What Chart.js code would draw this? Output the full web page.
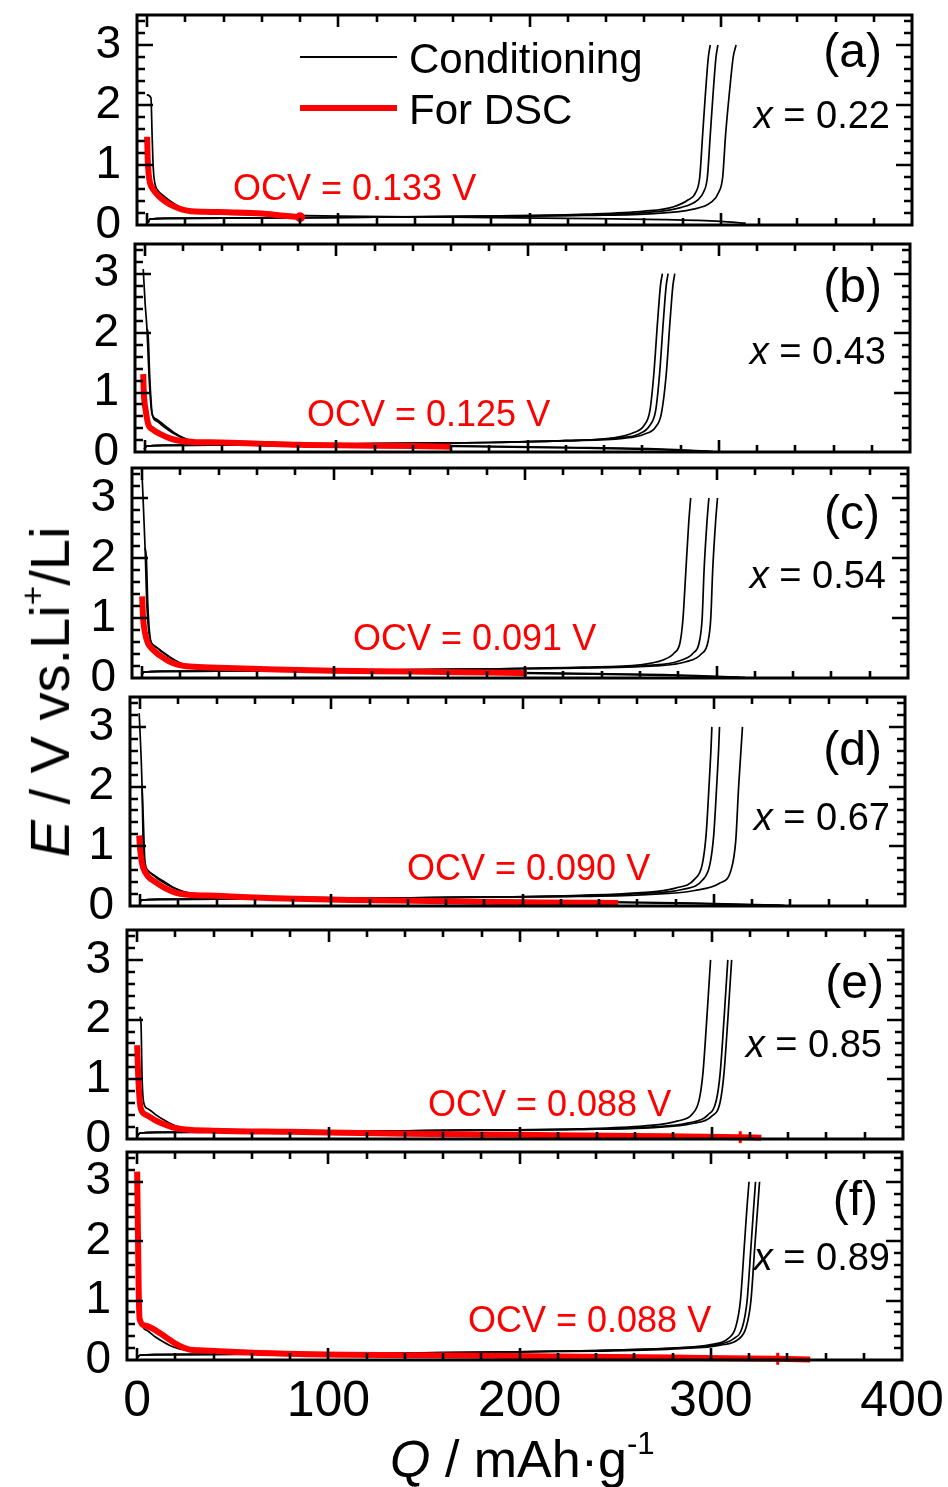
<!DOCTYPE html>
<html><head><meta charset="utf-8">
<script src="https://cdn.jsdelivr.net/npm/chart.js@4.4.1/dist/chart.umd.min.js"></script>
<style>
html,body{margin:0;padding:0;background:#fff;}
#wrap{position:relative;width:948px;height:1487px;overflow:hidden;background:#fff;}
canvas{position:absolute;left:0;top:0;}
.t{position:absolute;font-family:"Liberation Sans",Arial,sans-serif;color:#000;white-space:nowrap;line-height:1;}
.r{color:#ff0000;}
</style></head><body>
<div id="wrap"></div>
<script>
// ---------- data (Q in mAh/g, E in V) ----------
const xTickValues = [0, 100, 200, 300, 400];
const yTickValues = [0, 1, 2, 3];
const panelLetters = ['(a)', '(b)', '(c)', '(d)', '(e)', '(f)'];
const xContents = ['0.22', '0.43', '0.54', '0.67', '0.85', '0.89'];
const ocvValues = ['0.133', '0.125', '0.091', '0.090', '0.088', '0.088'];

// panel (a)
const aDis = [[-0.2,2.17],[2,2.12],[2.6,1.5],[3.2,0.95],[4,0.7],[5.5,0.58],[8,0.5],[12,0.4],[16,0.32],[20,0.26],[25,0.22],[35,0.19],[60,0.17],[100,0.15],[160,0.13],[220,0.11],[270,0.09],[300,0.06],[313,0.03]];
const aCh1 = [[0.5,0.04],[1.5,0.1],[10,0.11],[60,0.12],[120,0.13],[180,0.15],[230,0.18],[260,0.23],[275,0.3],[283,0.42],[287,0.55],[289,0.8],[290.5,1.5],[292,2.2],[293.5,2.8],[294.5,3.0]];
const aCh2 = [[0.5,0.04],[1.5,0.1],[10,0.11],[60,0.12],[120,0.13],[180,0.15],[230,0.17],[262,0.21],[279,0.29],[288,0.42],[291,0.55],[293,0.8],[294.5,1.5],[296,2.2],[297.5,2.8],[298.5,3.0]];
const aCh3 = [[0.5,0.04],[1.5,0.1],[10,0.11],[60,0.12],[120,0.13],[180,0.14],[230,0.16],[265,0.19],[285,0.26],[295,0.38],[299,0.55],[301,0.8],[302.5,1.5],[304.5,2.2],[306.5,2.8],[308,3.0]];
const aRed = [[0,1.47],[0.3,1.1],[0.8,0.85],[1.5,0.7],[3,0.6],[6,0.48],[10,0.38],[14,0.31],[18,0.26],[23,0.23],[30,0.22],[45,0.21],[60,0.19],[70,0.16],[80,0.13]];

// panel (b)
const bDis1 = [[-1,3.08],[0,2.5],[1,2.05],[2,1.3],[3.5,0.66],[6,0.55],[10,0.45],[15,0.33],[20,0.24],[25,0.19],[40,0.17],[80,0.14],[150,0.11],[220,0.08],[270,0.05],[297,0.01]];
const bDis2 = [[1,2.07],[1.5,2.0],[2.5,1.2],[3.8,0.62],[6,0.52],[10,0.42],[15,0.31],[20,0.23],[25,0.18],[40,0.16],[80,0.13],[150,0.1],[220,0.07],[270,0.04],[295,0.01]];
const bCh1 = [[-0.5,0.05],[1,0.1],[10,0.11],[60,0.12],[120,0.14],[180,0.16],[220,0.19],[245,0.24],[255,0.32],[261,0.45],[264,0.7],[266,1.3],[268,2.2],[269.5,2.8],[270.5,3.0]];
const bCh2 = [[-0.5,0.05],[1,0.1],[10,0.11],[60,0.12],[120,0.14],[180,0.16],[220,0.19],[248,0.24],[258,0.3],[264,0.45],[267,0.7],[269,1.3],[271,2.2],[272.5,2.8],[273.5,3.0]];
const bCh3 = [[-0.5,0.05],[1,0.1],[10,0.11],[60,0.12],[120,0.14],[180,0.16],[220,0.19],[250,0.23],[261,0.3],[267,0.42],[270,0.65],[272.5,1.3],[274.5,2.2],[276,2.8],[277,3.0]];
const bRed = [[-1,1.31],[-0.7,1.0],[0.3,0.7],[1.6,0.47],[4,0.38],[8,0.3],[13,0.23],[18,0.19],[25,0.17],[40,0.16],[60,0.14],[80,0.12],[110,0.11],[140,0.1],[160,0.09]];

// panel (c)
const cDis1 = [[0,3.35],[1.5,2.2],[2.5,1.2],[4,0.66],[6,0.55],[10,0.45],[15,0.34],[20,0.25],[25,0.2],[40,0.17],[80,0.14],[150,0.11],[220,0.08],[280,0.05],[315,0.01]];
const cDis2 = [[1.5,2.17],[2.2,2.0],[3,1.2],[4.5,0.62],[7,0.52],[11,0.42],[16,0.31],[21,0.23],[26,0.18],[40,0.16],[80,0.13],[150,0.1],[220,0.07],[280,0.04],[312,0.01]];
const cCh1 = [[-0.3,0.05],[1,0.1],[10,0.11],[60,0.12],[120,0.13],[180,0.15],[230,0.18],[260,0.22],[272,0.3],[278,0.42],[281,0.6],[282.5,1.0],[284,1.8],[285.5,2.6],[286.5,3.0]];
const cCh2 = [[-0.3,0.05],[1,0.1],[10,0.11],[60,0.12],[120,0.13],[180,0.15],[230,0.17],[265,0.21],[280,0.28],[288,0.42],[291,0.6],[292.5,1.0],[293.5,1.8],[295,2.6],[296,3.0]];
const cCh3 = [[-0.3,0.05],[1,0.1],[10,0.11],[60,0.12],[120,0.13],[180,0.15],[230,0.17],[268,0.2],[284,0.27],[292,0.4],[295.5,0.6],[297,1.0],[298,1.8],[299.5,2.6],[300.5,3.0]];
const cRed = [[0,1.36],[0.5,1.0],[1.5,0.75],[3,0.58],[5,0.49],[9,0.38],[14,0.28],[19,0.22],[25,0.19],[40,0.17],[70,0.14],[100,0.12],[140,0.11],[180,0.09],[201,0.08]];

// panel (d)
const dDis1 = [[-0.5,3.23],[1,2.02],[1.6,1.0],[2.5,0.67],[5,0.56],[9,0.46],[14,0.36],[19,0.28],[25,0.22],[40,0.18],[80,0.15],[150,0.11],[220,0.08],[290,0.05],[337,0.01]];
const dDis2 = [[1,2.02],[1.6,1.5],[2.5,0.75],[4,0.6],[8,0.5],[13,0.4],[18,0.3],[24,0.23],[40,0.17],[80,0.14],[150,0.1],[220,0.07],[290,0.04],[335,0.01]];
const dCh1 = [[-0.3,0.05],[1,0.1],[10,0.11],[60,0.12],[120,0.13],[180,0.15],[230,0.18],[260,0.22],[280,0.3],[290,0.45],[294,0.7],[296,1.2],[297.5,2.0],[298.5,2.6],[299,3.0]];
const dCh2 = [[-0.3,0.05],[1,0.1],[10,0.11],[60,0.12],[120,0.13],[180,0.15],[230,0.17],[262,0.21],[284,0.28],[294,0.43],[298,0.7],[300,1.2],[301.5,2.0],[302.5,2.6],[303,3.0]];
const dCh3 = [[-0.3,0.05],[1,0.1],[10,0.11],[60,0.12],[120,0.13],[180,0.15],[230,0.16],[265,0.19],[290,0.26],[303,0.38],[309,0.6],[311.5,1.1],[313,2.0],[314.2,2.6],[315,3.0]];
const dRed = [[-0.5,1.18],[0,0.95],[0.8,0.75],[1.6,0.64],[4,0.5],[8,0.4],[13,0.3],[18,0.23],[25,0.19],[40,0.17],[70,0.13],[110,0.1],[160,0.08],[210,0.06],[250,0.05]];

// panel (e)
const eDis = [[1.5,2.05],[2,1.95],[2.6,1.0],[3.5,0.6],[6,0.5],[10,0.4],[15,0.3],[20,0.22],[25,0.18],[40,0.16],[80,0.14],[150,0.11],[220,0.08],[280,0.05],[318,0.01]];
const eCh1 = [[0,0.04],[1.5,0.1],[10,0.11],[60,0.12],[120,0.13],[180,0.15],[230,0.17],[265,0.22],[282,0.3],[290,0.42],[293.5,0.65],[295.5,1.1],[297.5,2.0],[298.7,2.6],[299.5,3.0]];
const eCh2 = [[0,0.04],[1.5,0.1],[10,0.11],[60,0.12],[120,0.13],[180,0.15],[230,0.16],[268,0.2],[288,0.27],[298,0.4],[302.5,0.65],[304.5,1.1],[306.5,2.0],[307.7,2.6],[308.5,3.0]];
const eCh3 = [[0,0.04],[1.5,0.1],[10,0.11],[60,0.12],[120,0.13],[180,0.15],[230,0.16],[270,0.19],[290,0.26],[300,0.38],[304.5,0.62],[306.5,1.1],[308.5,2.0],[309.7,2.6],[310.5,3.0]];
const eRed = [[0,1.57],[0.5,1.1],[1.2,0.7],[2,0.5],[5,0.4],[9,0.32],[13,0.26],[18,0.2],[25,0.16],[40,0.14],[80,0.12],[140,0.09],[200,0.07],[260,0.05],[315,0.03],[326,0.02]];

// panel (f)
const fDis = [[0.3,2.07],[0.8,1.9],[1.5,1.0],[2.5,0.6],[5,0.5],[9,0.4],[14,0.3],[19,0.22],[25,0.17],[40,0.15],[80,0.13],[150,0.1],[220,0.08],[290,0.05],[340,0.01]];
const fCh1 = [[0,0.04],[1.5,0.08],[10,0.09],[60,0.1],[120,0.11],[180,0.13],[240,0.16],[280,0.2],[300,0.26],[309,0.36],[313,0.55],[315.5,1.0],[317.5,1.9],[319,2.6],[320,3.0]];
const fCh2 = [[0,0.04],[1.5,0.08],[10,0.09],[60,0.1],[120,0.11],[180,0.13],[240,0.16],[282,0.2],[303,0.26],[312,0.36],[316.5,0.55],[319,1.0],[321,1.9],[322.5,2.6],[323.4,3.0]];
const fCh3 = [[0,0.04],[1.5,0.08],[10,0.09],[60,0.1],[120,0.11],[180,0.13],[240,0.15],[284,0.19],[305,0.25],[314.5,0.35],[318.5,0.55],[321,1.0],[323,1.9],[324.6,2.6],[325.5,3.0]];
const fRed = [[0,3.17],[0.4,2.2],[0.8,1.2],[1.3,0.69],[4,0.58],[8,0.53],[12,0.45],[17,0.34],[22,0.24],[27,0.18],[35,0.16],[85,0.1],[150,0.08],[220,0.06],[280,0.04],[335,0.02],[352,0.01]];

const conditioning = [[aDis,aCh1,aCh2,aCh3],[bDis1,bDis2,bCh1,bCh2,bCh3],[cDis1,cDis2,cCh1,cCh2,cCh3],[dDis1,dDis2,dCh1,dCh2,dCh3],[eDis,eCh1,eCh2,eCh3],[fDis,fCh1,fCh2,fCh3]];
const forDSC = [aRed,bRed,cRed,dRed,eRed,fRed];
const spikeQ = [null,null,null,null,315,335];

// ---------- layout ----------
const W = 948, H = 1487;
const frames = [ // left, right, top, bottom (px)
  [137,912,15,225],[135,910,244,452],[132,908,468,678],
  [130,905,697,906],[127,903,930,1139],[127,902,1152,1360]];
const FONT = '"Liberation Sans", Arial, sans-serif';
const RED = '#ff0000';

const frameTicks = {
  id:'frameTicks',
  afterDatasetsDraw(chart){
    const {ctx, chartArea:{left,right,top,bottom}, scales:{x,y}} = chart;
    ctx.save();
    ctx.strokeStyle='#000'; ctx.lineWidth=2.6; ctx.lineCap='butt';
    ctx.beginPath();
    for(let v=0; v<400; v+=20){
      const px = Math.round(x.getPixelForValue(v));
      const L = v%100===0 ? 12 : 7;
      ctx.moveTo(px,bottom); ctx.lineTo(px,bottom-L);
      ctx.moveTo(px,top); ctx.lineTo(px,top+L);
    }
    for(let i=1;i<=17;i++){
      const py = Math.round(y.getPixelForValue(i*0.2));
      const L = i%5===0 ? 16 : 8;
      ctx.moveTo(left,py); ctx.lineTo(left+L,py);
      ctx.moveTo(right,py); ctx.lineTo(right-L,py);
    }
    ctx.stroke();
    ctx.lineWidth=3;
    ctx.strokeRect(left,top,right-left,bottom-top);
    ctx.restore();
  }
};

const wrap = document.getElementById('wrap');
frames.forEach((fr, i) => {
  const [L,R,T,B] = fr;
  const cv = document.createElement('canvas');
  cv.width = W; cv.height = H;
  wrap.appendChild(cv);
  const last = i === frames.length-1;
  const ds = conditioning[i].map(arr => ({
    data: arr.map(p => ({x:p[0], y:p[1]})),
    borderColor:'#000', borderWidth:1.7, pointRadius:0,
    cubicInterpolationMode:'monotone', clip:4, order:2
  }));
  const red = forDSC[i];
  ds.push({
    data: red.map(p => ({x:p[0], y:p[1]})),
    borderColor:RED, backgroundColor:RED, borderWidth:6,
    pointRadius: red.map((p,k) => (k===red.length-1 && i===0) ? 3.5 : (p[0]===spikeQ[i] ? 6 : 0)),
    pointStyle: red.map(p => p[0]===spikeQ[i] ? 'line' : 'circle'),
    rotation: 90, pointBorderWidth: 3, pointBorderColor: RED,
    cubicInterpolationMode:'monotone', clip:5, order:1
  });
  new Chart(cv, {
    type:'line',
    data:{datasets:ds},
    options:{
      responsive:false, animation:false, events:[],
      layout:{padding:{top:T, right:W-R, left:0, bottom:0}},
      plugins:{legend:{display:false}, tooltip:{enabled:false}},
      scales:{
        x:{type:'linear', min:-5.3, max:400,
          afterFit(s){ s.height = H - B; s.paddingLeft = 0; s.paddingRight = 0; },
          afterBuildTicks(s){ s.ticks = xTickValues.map(v=>({value:v})); },
          grid:{display:false, drawTicks:false}, border:{display:false},
          ticks:{display:last, color:'#000', font:{family:FONT, size:50}, padding:12, maxRotation:0, autoSkip:false}},
        y:{type:'linear', min:0, max:3.5,
          afterFit(s){ s.width = L; s.paddingTop = 0; s.paddingBottom = 0; },
          afterBuildTicks(s){ s.ticks = yTickValues.map(v=>({value:v})); },
          grid:{display:false, drawTicks:false}, border:{display:false},
          ticks:{color:'#000', font:{family:FONT, size:46}, padding:16}}
      }
    },
    plugins:[frameTicks]
  });
});

// ---------- text overlays ----------
function addText(html, style, cls){
  const d = document.createElement('div');
  d.className = 't' + (cls ? ' '+cls : '');
  d.innerHTML = html;
  Object.assign(d.style, style);
  wrap.appendChild(d);
  return d;
}
// legend
const lg1 = document.createElement('div');
Object.assign(lg1.style,{position:'absolute',left:'300px',top:'56px',width:'97px',height:'1.5px',background:'#000'});
wrap.appendChild(lg1);
const lg2 = document.createElement('div');
Object.assign(lg2.style,{position:'absolute',left:'300px',top:'105px',width:'97px',height:'6px',background:RED});
wrap.appendChild(lg2);
addText('Conditioning',{left:'409px',top:'38px',fontSize:'42px'});
addText('For DSC',{left:'409px',top:'89px',fontSize:'42px'});

const letterPos = [[882,27],[882,262],[880,489],[882,725],[884,958],[878,1175]];
const xPos = [[890,96],[886,332],[886,556],[890,798],[882,1025],[890,1238]];
const ocvPos = [[233,170],[307,396],[353,620],[407,850],[428,1086],[468,1302]];
panelLetters.forEach((t,i)=>{
  addText(t,{right:(W-letterPos[i][0])+'px',top:letterPos[i][1]+'px',fontSize:'48px'});
  addText('<i>x</i> = '+xContents[i],{right:(W-xPos[i][0])+'px',top:xPos[i][1]+'px',fontSize:'38px'});
  addText('OCV = '+ocvValues[i]+' V',{left:ocvPos[i][0]+'px',top:ocvPos[i][1]+'px',fontSize:'36px'},'r');
});
// axis titles
addText('<i>Q</i> / mAh·g<sup style="font-size:60%;vertical-align:0.75em">-1</sup>',{left:'390px',top:'1428px',fontSize:'52px'});
const yt = addText('<i>E</i> / V vs.Li<sup style="font-size:60%;vertical-align:0.75em">+</sup>/Li',{left:'47px',top:'692px',fontSize:'56px'});
yt.style.transform='translate(-50%,-50%) rotate(-90deg)';
</script>
</body></html>
